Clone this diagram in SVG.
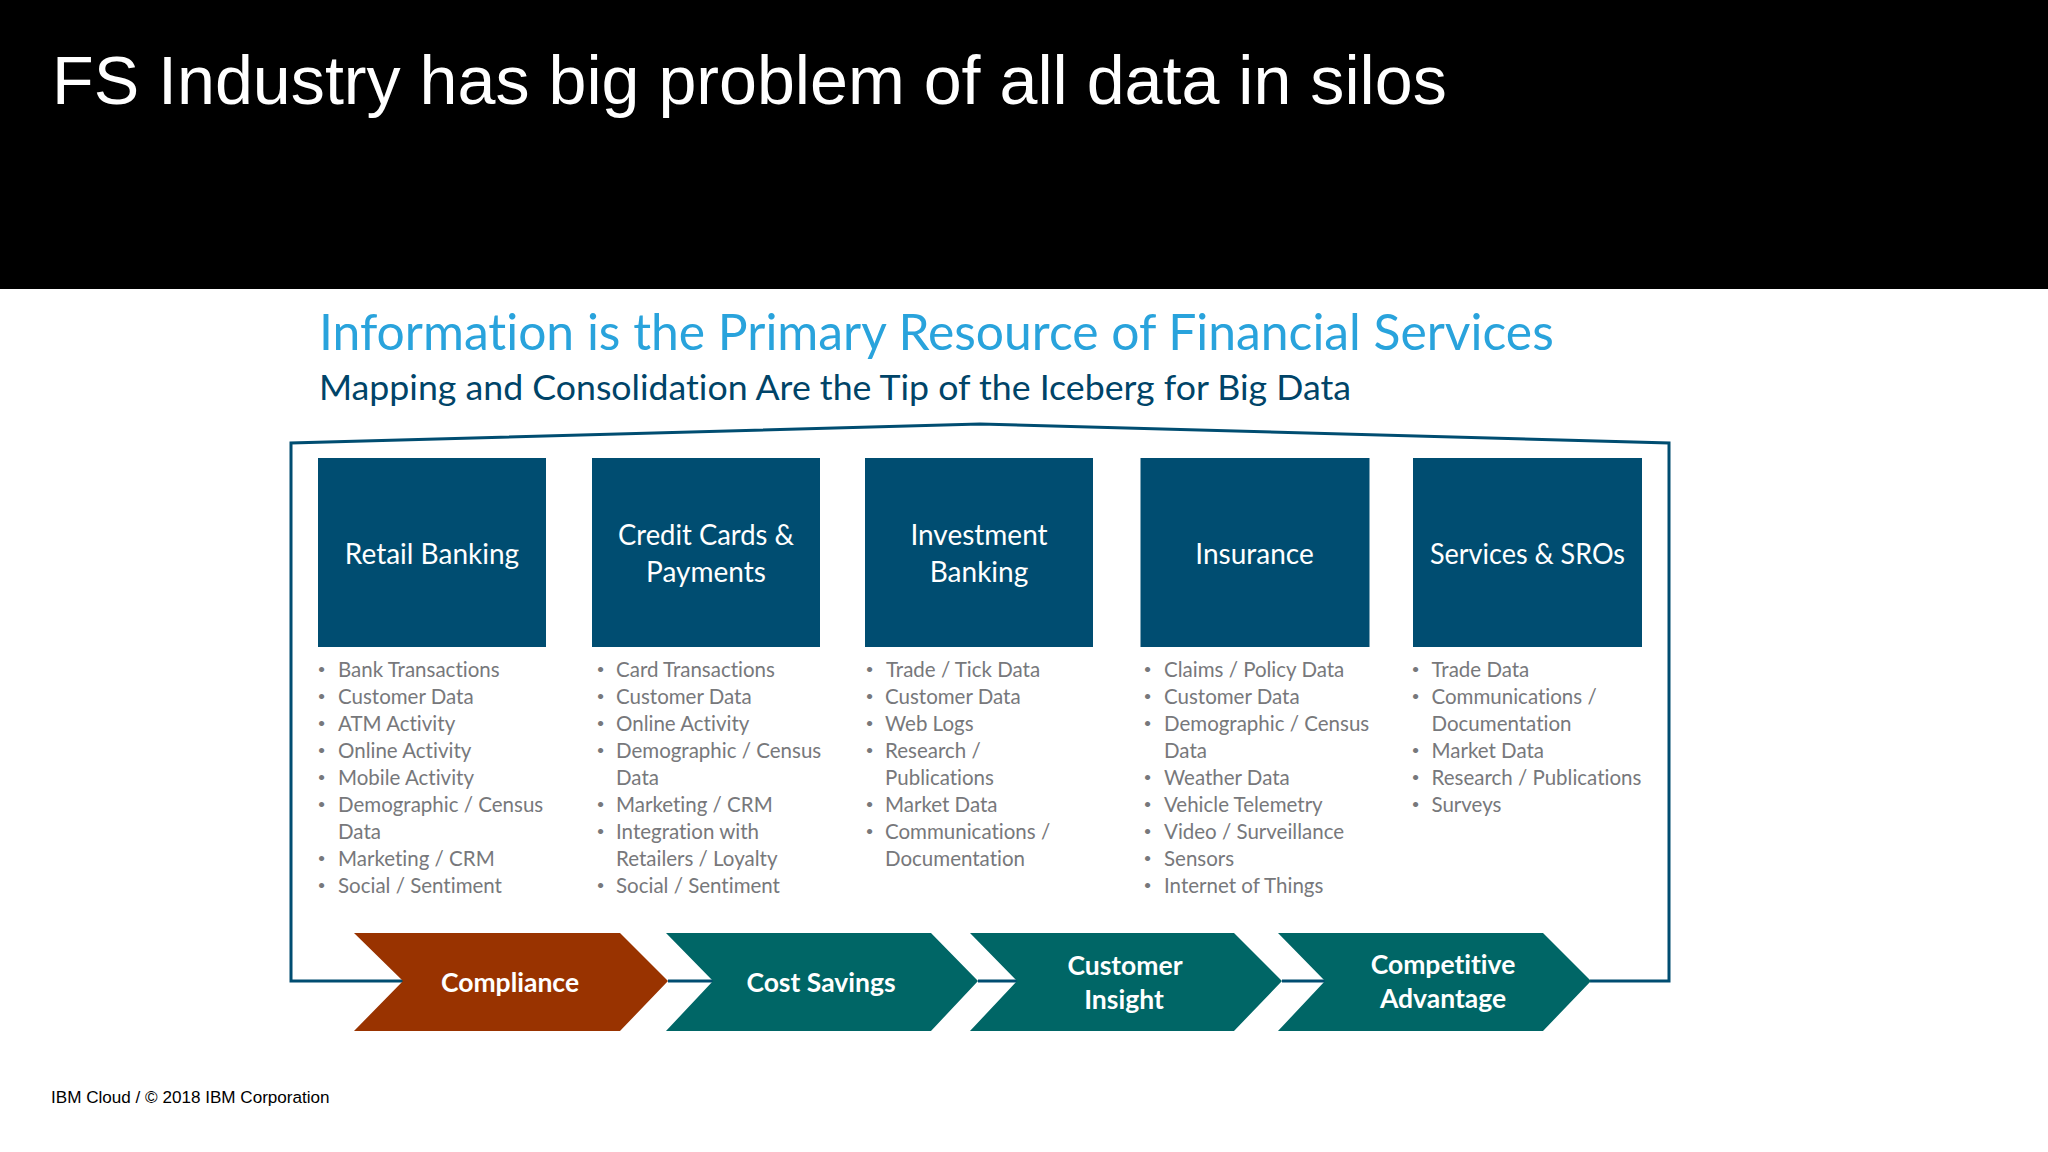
<svg xmlns="http://www.w3.org/2000/svg" width="2048" height="1152" viewBox="0 0 2048 1152">
<style>
text{font-family:Lato,"Open Sans",sans-serif;font-variant-ligatures:none}
.h{font-family:"Liberation Sans",Arial,sans-serif;fill:#fff}
.box{fill:#004d71}
.bt{fill:#fff;font-size:28px;text-anchor:middle}
.ct{fill:#fff;font-size:26.5px;font-weight:700;text-anchor:middle}
.li{fill:#77787b;font-size:20.5px}
.bu{fill:#77787b;font-size:14px;transform:translate(.5px,-3px)}
.teal{fill:#006666}
.frame{fill:none;stroke:#004d71;stroke-width:3}
</style>
<rect width="2048" height="1152" fill="#fff"/>
<rect width="2048" height="289" fill="#000"/>
<text class="h" x="52" y="104" font-size="68.2">FS Industry has big problem of all data in silos</text>
<text x="319" y="350" font-size="49.8" fill="#29a3dc">Information is the Primary Resource of Financial Services</text>
<text x="319" y="400" font-size="35.7" fill="#004468">Mapping and Consolidation Are the Tip of the Iceberg for Big Data</text>
<g id="connectors"><path class="frame" d="M403 981H291V443L980 424L1669 443V981H1590"/><path class="frame" d="M668 981H713M978 981H1017M1282 981H1325"/></g>
<g id="retail"><rect class="box" x="318" y="458" width="228" height="189"/><text class="bt" x="432" y="564">Retail Banking</text>
<text class="bu" x="317" y="677">•</text><text class="li" x="338" y="677">Bank Transactions</text>
<text class="bu" x="317" y="704">•</text><text class="li" x="338" y="704">Customer Data</text>
<text class="bu" x="317" y="731">•</text><text class="li" x="338" y="731">ATM Activity</text>
<text class="bu" x="317" y="758">•</text><text class="li" x="338" y="758">Online Activity</text>
<text class="bu" x="317" y="785">•</text><text class="li" x="338" y="785">Mobile Activity</text>
<text class="bu" x="317" y="812">•</text><text class="li" x="338" y="812">Demographic / Census</text>
<text class="li" x="338" y="839">Data</text>
<text class="bu" x="317" y="866">•</text><text class="li" x="338" y="866">Marketing / CRM</text>
<text class="bu" x="317" y="893">•</text><text class="li" x="338" y="893">Social / Sentiment</text></g>
<g id="cards"><rect class="box" x="592" y="458" width="228" height="189"/><text class="bt" x="706" y="545" textLength="176" lengthAdjust="spacingAndGlyphs">Credit Cards &amp;</text><text class="bt" x="706" y="582">Payments</text>
<text class="bu" x="596" y="677">•</text><text class="li" x="616" y="677">Card Transactions</text>
<text class="bu" x="596" y="704">•</text><text class="li" x="616" y="704">Customer Data</text>
<text class="bu" x="596" y="731">•</text><text class="li" x="616" y="731">Online Activity</text>
<text class="bu" x="596" y="758">•</text><text class="li" x="616" y="758">Demographic / Census</text>
<text class="li" x="616" y="785">Data</text>
<text class="bu" x="596" y="812">•</text><text class="li" x="616" y="812">Marketing / CRM</text>
<text class="bu" x="596" y="839">•</text><text class="li" x="616" y="839">Integration with</text>
<text class="li" x="616" y="866">Retailers / Loyalty</text>
<text class="bu" x="596" y="893">•</text><text class="li" x="616" y="893">Social / Sentiment</text></g>
<g id="investment"><rect class="box" x="865" y="458" width="228" height="189"/><text class="bt" x="979" y="545">Investment</text><text class="bt" x="979" y="582">Banking</text>
<text class="bu" x="865" y="677">•</text><text class="li" x="886" y="677">Trade / Tick Data</text>
<text class="bu" x="865" y="704">•</text><text class="li" x="885" y="704">Customer Data</text>
<text class="bu" x="865" y="731">•</text><text class="li" x="885" y="731">Web Logs</text>
<text class="bu" x="865" y="758">•</text><text class="li" x="885" y="758">Research /</text>
<text class="li" x="885" y="785">Publications</text>
<text class="bu" x="865" y="812">•</text><text class="li" x="885" y="812">Market Data</text>
<text class="bu" x="865" y="839">•</text><text class="li" x="885" y="839">Communications /</text>
<text class="li" x="885" y="866">Documentation</text></g>
<g id="insurance"><rect class="box" x="1140.500" y="458" width="229" height="189"/><text class="bt" x="1254.500" y="564">Insurance</text>
<text class="bu" x="1143" y="677">•</text><text class="li" x="1164" y="677">Claims / Policy Data</text>
<text class="bu" x="1143" y="704">•</text><text class="li" x="1164" y="704">Customer Data</text>
<text class="bu" x="1143" y="731">•</text><text class="li" x="1164" y="731">Demographic / Census</text>
<text class="li" x="1164" y="758">Data</text>
<text class="bu" x="1143" y="785">•</text><text class="li" x="1164" y="785">Weather Data</text>
<text class="bu" x="1143" y="812">•</text><text class="li" x="1164" y="812">Vehicle Telemetry</text>
<text class="bu" x="1143" y="839">•</text><text class="li" x="1164" y="839">Video / Surveillance</text>
<text class="bu" x="1143" y="866">•</text><text class="li" x="1164" y="866">Sensors</text>
<text class="bu" x="1143" y="893">•</text><text class="li" x="1164" y="893">Internet of Things</text></g>
<g id="services"><rect class="box" x="1413" y="458" width="229" height="189"/><text class="bt" x="1527.500" y="564" textLength="195" lengthAdjust="spacingAndGlyphs">Services &amp; SROs</text>
<text class="bu" x="1411" y="677">•</text><text class="li" x="1431.500" y="677">Trade Data</text>
<text class="bu" x="1411" y="704">•</text><text class="li" x="1431.500" y="704">Communications /</text>
<text class="li" x="1431.500" y="731">Documentation</text>
<text class="bu" x="1411" y="758">•</text><text class="li" x="1431.500" y="758">Market Data</text>
<text class="bu" x="1411" y="785">•</text><text class="li" x="1431.500" y="785">Research / Publications</text>
<text class="bu" x="1411" y="812">•</text><text class="li" x="1431.500" y="812">Surveys</text></g>
<g id="compliance"><path fill="#993300" d="M354 933H620L668 981L620 1031H354L403 981Z"/><text class="ct" x="510" y="992">Compliance</text></g>
<g id="cost"><path class="teal" d="M666 933H931L978 981L931 1031H666L713 981Z"/><text class="ct" x="821" y="992">Cost Savings</text></g>
<g id="insight"><path class="teal" d="M970 933H1234L1282 981L1234 1031H970L1017 981Z"/><text class="ct" x="1125" y="975">Customer</text><text class="ct" x="1124" y="1009">Insight</text></g>
<g id="advantage"><path class="teal" d="M1278 933H1543L1591 981L1543 1031H1278L1325 981Z"/><text class="ct" x="1443" y="974">Competitive</text><text class="ct" x="1443" y="1008">Advantage</text></g>
<text class="h" x="51" y="1103" font-size="17.1" style="fill:#000">IBM Cloud / © 2018 IBM Corporation</text>
</svg>
